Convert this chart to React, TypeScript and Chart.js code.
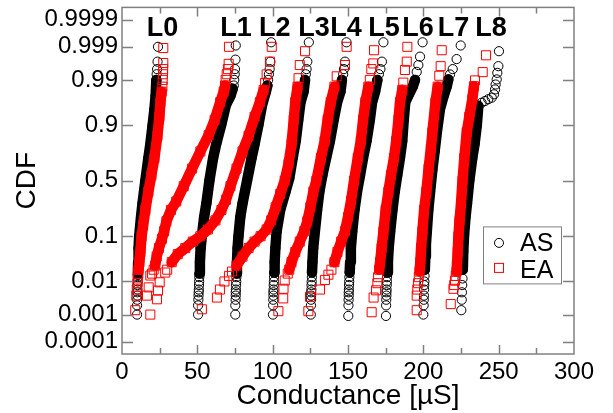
import React, { useEffect, useRef } from 'react';
import { Chart, registerables } from 'chart.js';

Chart.register(...registerables);

type Pt = [number, number]; // [conductance µS, CDF]

const X_MIN = 0;
const X_MAX = 300;
const X_LABEL_STEP = 50;
const X_TICK_MARKS = [25, 50, 75, 100, 125, 150, 175, 200, 225, 250, 275];
const Y_TICK_P = [0.0001, 0.001, 0.01, 0.1, 0.5, 0.9, 0.99, 0.999, 0.9999];
const Y_TICK_LABELS = ['0.0001', '0.001', '0.01', '0.1', '0.5', '0.9', '0.99', '0.999', '0.9999'];
const LEVEL_LABELS = ['L0', 'L1', 'L2', 'L3', 'L4', 'L5', 'L6', 'L7', 'L8'];
const LEVEL_LABEL_X = [26.9, 75.6, 101.4, 127.4, 148.7, 173.9, 196.4, 220.0, 244.9];
const SERIES_NAMES = ['AS', 'EA'];

// ---- AS (black circles) ----
const AS_L0_TAIL: Pt[] = [[10.0,0.001],[10.0,0.002],[10.1,0.003],[10.2,0.004],[10.2,0.005],[10.3,0.006],[10.3,0.008],[10.4,0.01],[10.5,0.013],[23.0,0.993],[23.3,0.995],[23.6,0.997],[23.9,0.999]];
const AS_L0_BODY: Pt[] = [[10.5,0.015],[10.7,0.03],[11.0,0.06],[11.4,0.1],[12.6,0.2],[13.6,0.3],[15.5,0.5],[17.5,0.7],[18.8,0.8],[20.3,0.9],[21.5,0.95],[22.3,0.975],[22.8,0.99]];
const AS_L1_TAIL: Pt[] = [[50.5,0.001],[50.5,0.002],[50.7,0.003],[50.8,0.004],[50.9,0.005],[51.0,0.006],[51.1,0.008],[51.2,0.01],[51.3,0.013],[74.2,0.986],[74.5,0.99],[74.8,0.993],[75.0,0.995],[75.3,0.9974],[75.5,0.9991]];
const AS_L1_BODY: Pt[] = [[51.4,0.016],[51.7,0.03],[52.2,0.06],[53.0,0.1],[54.5,0.2],[56.0,0.3],[58.0,0.5],[60.5,0.7],[62.5,0.8],[65.8,0.9],[69.0,0.96],[72.0,0.975],[73.5,0.983]];
const AS_L2_TAIL: Pt[] = [[75.2,0.001],[75.2,0.002],[75.4,0.003],[75.5,0.004],[75.5,0.005],[75.6,0.006],[75.7,0.008],[75.8,0.01],[75.9,0.013],[97.0,0.99],[97.5,0.993],[98.0,0.995],[98.5,0.997],[99.0,0.9993]];
const AS_L2_BODY: Pt[] = [[76.0,0.016],[76.3,0.03],[76.7,0.06],[77.3,0.1],[78.5,0.2],[80.0,0.3],[83.0,0.5],[86.0,0.7],[88.0,0.8],[90.5,0.9],[93.0,0.96],[95.5,0.98],[96.5,0.986]];
const AS_L3_TAIL: Pt[] = [[100.2,0.001],[100.3,0.002],[100.4,0.003],[100.5,0.004],[100.5,0.005],[100.6,0.006],[100.7,0.008],[100.8,0.01],[100.9,0.013],[122.0,0.993],[122.5,0.995],[123.0,0.997],[124.0,0.9993]];
const AS_L3_BODY: Pt[] = [[101.0,0.017],[101.3,0.03],[101.8,0.06],[102.6,0.12],[105.0,0.25],[108.5,0.4],[111.0,0.52],[113.3,0.7],[115.3,0.82],[117.0,0.92],[118.5,0.965],[120.5,0.98],[121.5,0.99]];
const AS_L4_TAIL: Pt[] = [[125.3,0.001],[125.4,0.002],[125.5,0.003],[125.5,0.004],[125.6,0.005],[125.7,0.006],[125.8,0.008],[125.9,0.01],[126.0,0.013],[146.8,0.993],[147.3,0.995],[148.0,0.997],[149.0,0.9993]];
const AS_L4_BODY: Pt[] = [[126.1,0.017],[126.4,0.03],[126.9,0.06],[128.0,0.12],[129.5,0.25],[131.0,0.4],[133.0,0.55],[135.5,0.7],[138.0,0.82],[140.5,0.92],[142.8,0.965],[145.0,0.98],[146.0,0.99]];
const AS_L5_TAIL: Pt[] = [[150.2,0.0009],[150.3,0.002],[150.4,0.003],[150.5,0.004],[150.5,0.005],[150.6,0.006],[150.7,0.008],[150.8,0.01],[150.9,0.013],[170.5,0.993],[171.5,0.995],[172.5,0.997],[173.5,0.9993]];
const AS_L5_BODY: Pt[] = [[151.1,0.017],[151.4,0.03],[151.9,0.06],[152.8,0.12],[154.3,0.25],[156.0,0.4],[158.0,0.55],[160.0,0.7],[162.3,0.82],[164.5,0.92],[166.0,0.965],[168.0,0.98],[169.5,0.99]];
const AS_L6_TAIL: Pt[] = [[175.2,0.0009],[175.3,0.002],[175.4,0.003],[175.5,0.004],[175.5,0.005],[175.6,0.006],[175.7,0.008],[175.8,0.01],[175.9,0.013],[195.6,0.994],[196.7,0.9962],[197.8,0.9979],[199.5,0.9993]];
const AS_L6_BODY: Pt[] = [[176.1,0.017],[176.5,0.03],[177.0,0.06],[178.0,0.12],[179.5,0.25],[181.0,0.4],[182.7,0.55],[184.5,0.7],[186.0,0.82],[187.0,0.92],[188.0,0.965],[190.0,0.975],[193.0,0.985],[194.5,0.99]];
const AS_L7_TAIL: Pt[] = [[200.0,0.001],[200.2,0.002],[200.3,0.003],[200.4,0.004],[200.5,0.006],[200.6,0.008],[200.7,0.01],[200.8,0.014],[217.7,0.9929],[219.5,0.995],[222.1,0.9975],[224.8,0.9991]];
const AS_L7_BODY: Pt[] = [[201.0,0.02],[201.3,0.04],[201.7,0.07],[202.3,0.12],[203.3,0.25],[204.5,0.4],[206.0,0.6],[207.5,0.75],[209.0,0.87],[211.0,0.95],[213.5,0.975],[215.5,0.985],[216.6,0.9903]];
const AS_L8_TAIL: Pt[] = [[225.2,0.0014],[225.5,0.003],[225.6,0.005],[225.8,0.008],[226.0,0.012],[238.7,0.964],[240.9,0.967],[243.1,0.97],[245.4,0.9724],[246.9,0.9769],[247.6,0.9824],[248.0,0.9868],[248.7,0.9903],[249.1,0.9936],[249.8,0.9959],[250.2,0.9986]];
const AS_L8_BODY: Pt[] = [[226.2,0.02],[226.5,0.05],[227.0,0.1],[228.0,0.2],[229.0,0.3],[230.5,0.5],[232.5,0.7],[234.0,0.8],[235.5,0.9],[236.5,0.958]];

// ---- EA (red squares) ----
const EA_L0_TAIL: Pt[] = [[8.8,0.0014],[9.5,0.004],[9.8,0.006],[10.2,0.009],[10.5,0.012],[10.8,0.016],[26.8,0.985],[27.0,0.99],[27.2,0.993],[27.3,0.995],[27.4,0.9967],[27.4,0.9989]];
const EA_L0_BODY: Pt[] = [[11.0,0.02],[11.5,0.03],[12.2,0.05],[13.0,0.1],[14.0,0.15],[15.5,0.25],[17.5,0.4],[19.5,0.55],[21.5,0.7],[23.5,0.85],[24.8,0.93],[25.5,0.965],[26.3,0.98]];
const EA_L1_TAIL: Pt[] = [[16.6,0.004],[17.7,0.0069],[18.8,0.0143],[19.9,0.016],[21.0,0.02],[68.8,0.99],[69.5,0.993],[70.3,0.995],[70.8,0.9965],[71.0,0.999]];
const EA_L1_BODY: Pt[] = [[22.0,0.025],[23.0,0.04],[24.5,0.06],[26.5,0.09],[28.0,0.122],[29.5,0.175],[32.5,0.25],[36.0,0.316],[41.0,0.45],[46.5,0.61],[52.0,0.75],[57.5,0.853],[61.5,0.92],[65.2,0.965],[67.5,0.98],[68.4,0.986]];
const EA_L2_TAIL: Pt[] = [[18.8,0.001],[23.2,0.0031],[23.9,0.0056],[25.0,0.0095],[28.7,0.017],[30.0,0.02],[95.0,0.988],[96.0,0.9929],[98.2,0.997],[99.4,0.999]];
const EA_L2_BODY: Pt[] = [[33.0,0.03],[37.0,0.045],[42.0,0.06],[47.0,0.08],[52.0,0.1],[57.0,0.13],[62.0,0.18],[66.0,0.25],[69.0,0.33],[72.0,0.45],[76.0,0.61],[80.0,0.75],[84.0,0.85],[88.0,0.93],[91.5,0.965],[94.0,0.982]];
const EA_L3_TAIL: Pt[] = [[53.0,0.0015],[63.0,0.0035],[65.0,0.006],[68.0,0.01],[71.0,0.014],[73.0,0.018],[117.2,0.991],[118.0,0.9962],[121.5,0.9986]];
const EA_L3_BODY: Pt[] = [[76.0,0.025],[80.0,0.04],[84.0,0.06],[88.0,0.08],[92.0,0.1],[96.0,0.13],[99.0,0.18],[102.0,0.27],[105.0,0.38],[108.0,0.5],[110.5,0.65],[112.5,0.8],[114.0,0.92],[115.0,0.965],[116.5,0.985]];
const EA_L4_TAIL: Pt[] = [[103.8,0.0013],[107.0,0.0033],[107.2,0.0063],[108.0,0.0106],[110.0,0.016],[142.5,0.992],[148.0,0.9962],[149.1,0.999]];
const EA_L4_BODY: Pt[] = [[111.0,0.02],[112.5,0.03],[115.0,0.05],[118.0,0.08],[121.0,0.122],[123.0,0.175],[125.0,0.27],[127.0,0.4],[129.0,0.5],[132.0,0.7],[134.5,0.82],[136.5,0.92],[138.5,0.965],[141.0,0.985]];
const EA_L5_TAIL: Pt[] = [[123.7,0.0013],[124.8,0.0037],[131.4,0.006],[134.7,0.011],[137.0,0.015],[139.0,0.02],[164.5,0.99],[165.5,0.995],[166.8,0.9966],[167.3,0.9987]];
const EA_L5_BODY: Pt[] = [[141.0,0.03],[143.0,0.05],[145.5,0.08],[148.0,0.122],[150.0,0.2],[152.0,0.32],[154.0,0.5],[156.5,0.7],[158.5,0.82],[160.0,0.92],[161.5,0.965],[163.5,0.985]];
const EA_L6_TAIL: Pt[] = [[165.7,0.0012],[167.0,0.0035],[168.6,0.0057],[169.5,0.009],[170.0,0.013],[186.7,0.9882],[187.8,0.9947],[189.0,0.997],[189.4,0.999]];
const EA_L6_BODY: Pt[] = [[170.7,0.02],[171.3,0.03],[172.3,0.06],[173.5,0.12],[175.0,0.25],[176.8,0.4],[178.5,0.55],[180.5,0.7],[182.0,0.82],[183.5,0.92],[184.5,0.965],[186.0,0.982]];
const EA_L7_TAIL: Pt[] = [[195.6,0.0014],[195.6,0.004],[196.0,0.006],[196.5,0.009],[197.0,0.013],[210.6,0.9923],[211.5,0.9959],[212.2,0.9987]];
const EA_L7_BODY: Pt[] = [[197.5,0.018],[198.0,0.03],[198.5,0.06],[199.4,0.122],[200.5,0.25],[202.0,0.4],[203.5,0.61],[205.0,0.77],[206.0,0.868],[208.0,0.964],[209.5,0.985]];
const EA_L8_TAIL: Pt[] = [[218.2,0.0022],[220.0,0.0063],[220.5,0.008],[221.0,0.0105],[221.5,0.014],[234.3,0.9897],[239.4,0.9939],[241.6,0.9981]];
const EA_L8_BODY: Pt[] = [[222.0,0.018],[222.3,0.025],[222.8,0.05],[223.3,0.1],[224.0,0.175],[225.0,0.3],[226.0,0.5],[227.2,0.7],[228.8,0.868],[230.5,0.93],[232.5,0.97],[233.6,0.9854]];

const AS_CURVES: [Pt[], Pt[]][] = [
  [AS_L0_BODY, AS_L0_TAIL], [AS_L1_BODY, AS_L1_TAIL], [AS_L2_BODY, AS_L2_TAIL],
  [AS_L3_BODY, AS_L3_TAIL], [AS_L4_BODY, AS_L4_TAIL], [AS_L5_BODY, AS_L5_TAIL],
  [AS_L6_BODY, AS_L6_TAIL], [AS_L7_BODY, AS_L7_TAIL], [AS_L8_BODY, AS_L8_TAIL],
];
const EA_CURVES: [Pt[], Pt[]][] = [
  [EA_L0_BODY, EA_L0_TAIL], [EA_L1_BODY, EA_L1_TAIL], [EA_L2_BODY, EA_L2_TAIL],
  [EA_L3_BODY, EA_L3_TAIL], [EA_L4_BODY, EA_L4_TAIL], [EA_L5_BODY, EA_L5_TAIL],
  [EA_L6_BODY, EA_L6_TAIL], [EA_L7_BODY, EA_L7_TAIL], [EA_L8_BODY, EA_L8_TAIL],
];

// inverse of the standard normal CDF (probability-scale mapping)
function probit(p: number): number {
  const a = [-3.969683028665376e1, 2.209460984245205e2, -2.759285104469687e2, 1.38357751867269e2, -3.066479806614716e1, 2.506628277459239];
  const b = [-5.447609879822406e1, 1.615858368580409e2, -1.556989798598866e2, 6.680131188771972e1, -1.328068155288572e1];
  const c = [-7.784894002430293e-3, -3.223964580411365e-1, -2.400758277161838, -2.549732539343734, 4.374664141464968, 2.938163982698783];
  const d = [7.784695709041462e-3, 3.224671290700398e-1, 2.445134137142996, 3.754408661907416];
  const pl = 0.02425;
  if (p < pl) {
    const q = Math.sqrt(-2 * Math.log(p));
    return (((((c[0] * q + c[1]) * q + c[2]) * q + c[3]) * q + c[4]) * q + c[5]) / ((((d[0] * q + d[1]) * q + d[2]) * q + d[3]) * q + 1);
  }
  if (p <= 1 - pl) {
    const q = p - 0.5;
    const r = q * q;
    return ((((((a[0] * r + a[1]) * r + a[2]) * r + a[3]) * r + a[4]) * r + a[5]) * q) / (((((b[0] * r + b[1]) * r + b[2]) * r + b[3]) * r + b[4]) * r + 1);
  }
  const q = Math.sqrt(-2 * Math.log(1 - p));
  return -(((((c[0] * q + c[1]) * q + c[2]) * q + c[3]) * q + c[4]) * q + c[5]) / ((((d[0] * q + d[1]) * q + d[2]) * q + d[3]) * q + 1);
}

const toXY = (pts: Pt[]) => pts.map(([x, p]) => ({ x, y: probit(p) }));

const BLACK = '#000000';
const RED = '#ff0000';
const FRAME = '#808080';
const FONT = '"Liberation Sans", Arial, Helvetica, sans-serif';

function makeDatasets() {
  const ds: any[] = [];
  const add = (curves: [Pt[], Pt[]][], color: string, style: string, radius: number, order: number) => {
    curves.forEach(([body, tail]) => {
      ds.push({
        data: toXY(body), showLine: true, borderColor: color, borderWidth: 10.5,
        borderJoinStyle: 'round', borderCapStyle: 'round',
        pointStyle: style, pointRadius: radius, pointBorderColor: color,
        pointBackgroundColor: 'rgba(0,0,0,0)', pointBorderWidth: 1, order,
      });
      ds.push({
        data: toXY(tail), showLine: false,
        pointStyle: style, pointRadius: radius, pointBorderColor: color,
        pointBackgroundColor: 'rgba(0,0,0,0)', pointBorderWidth: 1, order,
      });
    });
  };
  add(EA_CURVES, RED, 'rect', 6.4, 0);
  add(AS_CURVES, BLACK, 'circle', 4.6, 1);
  return ds;
}

const decorPlugin = {
  id: 'decor',
  afterDraw(chart: any) {
    const { ctx, chartArea: a, scales } = chart;
    const xs = scales.x;
    const ys = scales.y;
    ctx.save();
    ctx.strokeStyle = FRAME;
    ctx.lineWidth = 1.5;
    ctx.beginPath();
    X_TICK_MARKS.forEach((v) => {
      const px = Math.round(xs.getPixelForValue(v)) + 0.5;
      const len = v % X_LABEL_STEP === 0 ? 9 : 6;
      ctx.moveTo(px, a.bottom); ctx.lineTo(px, a.bottom - len);
      ctx.moveTo(px, a.top); ctx.lineTo(px, a.top + len);
    });
    Y_TICK_P.forEach((p) => {
      const py = Math.round(ys.getPixelForValue(probit(p))) + 0.5;
      ctx.moveTo(a.left, py); ctx.lineTo(a.left + 11, py);
      ctx.moveTo(a.right, py); ctx.lineTo(a.right - 11, py);
    });
    ctx.stroke();
    ctx.strokeRect(a.left, a.top, a.right - a.left, a.bottom - a.top);

    // level labels
    ctx.fillStyle = '#000';
    ctx.font = `bold 27px ${FONT}`;
    ctx.textAlign = 'center';
    ctx.textBaseline = 'alphabetic';
    LEVEL_LABELS.forEach((t, i) => {
      ctx.fillText(t, xs.getPixelForValue(LEVEL_LABEL_X[i]), a.top + 29);
    });

    // legend
    const bx = a.right - 91;
    const by = a.top + 219;
    ctx.fillStyle = '#fff';
    ctx.fillRect(bx, by, 78, 57);
    ctx.strokeStyle = FRAME;
    ctx.lineWidth = 1;
    ctx.strokeRect(bx + 0.5, by + 0.5, 78, 57);
    ctx.strokeStyle = BLACK;
    ctx.beginPath();
    ctx.arc(bx + 16, by + 16.5, 4.5, 0, Math.PI * 2);
    ctx.stroke();
    ctx.strokeStyle = RED;
    ctx.strokeRect(bx + 11.5, by + 37, 9, 9);
    ctx.fillStyle = '#000';
    ctx.font = `25px ${FONT}`;
    ctx.textAlign = 'left';
    ctx.fillText(SERIES_NAMES[0], bx + 37, by + 25);
    ctx.fillText(SERIES_NAMES[1], bx + 37, by + 52);
    ctx.restore();
  },
};

export default function App() {
  const ref = useRef<HTMLCanvasElement>(null);
  useEffect(() => {
    if (!ref.current) return;
    Chart.defaults.font.family = FONT;
    Chart.defaults.color = '#000';
    const chart = new Chart(ref.current, {
      type: 'scatter',
      data: { datasets: makeDatasets() },
      options: {
        animation: false,
        responsive: false,
        layout: { padding: { left: 0, right: 39, top: 4, bottom: 0 } },
        plugins: { legend: { display: false }, tooltip: { enabled: false } },
        scales: {
          x: {
            type: 'linear', min: X_MIN, max: X_MAX,
            grid: { display: false, drawTicks: false },
            border: { display: false },
            ticks: { stepSize: X_LABEL_STEP, font: { size: 24 }, color: '#000', padding: 4, maxRotation: 0 },
            title: { display: true, text: 'Conductance [µS]', font: { size: 28 }, color: '#000', padding: { top: 0, bottom: 0 } },
            afterFit: (s: any) => { s.height = 59; s.paddingLeft = 0; s.paddingRight = 0; },
          },
          y: {
            type: 'linear', min: -4, max: 4,
            grid: { display: false, drawTicks: false },
            border: { display: false },
            afterBuildTicks: (s: any) => { s.ticks = Y_TICK_P.map((p) => ({ value: probit(p) })); },
            ticks: {
              autoSkip: false, font: { size: 24 }, color: '#000', padding: 4,
              callback: (_v: any, i: number) => Y_TICK_LABELS[i],
            },
            title: { display: true, text: 'CDF', font: { size: 28 }, color: '#000', padding: { top: 10, bottom: 0 } },
            afterFit: (s: any) => { s.width = 122; s.paddingTop = 0; s.paddingBottom = 0; },
          },
        },
      },
      plugins: [decorPlugin],
    });
    return () => chart.destroy();
  }, []);
  return (
    <div style={{ position: 'fixed', left: 0, top: 0, width: 613, height: 413, background: '#fff' }}>
      <canvas ref={ref} width={613} height={413} style={{ display: 'block', width: 613, height: 413 }} />
    </div>
  );
}
